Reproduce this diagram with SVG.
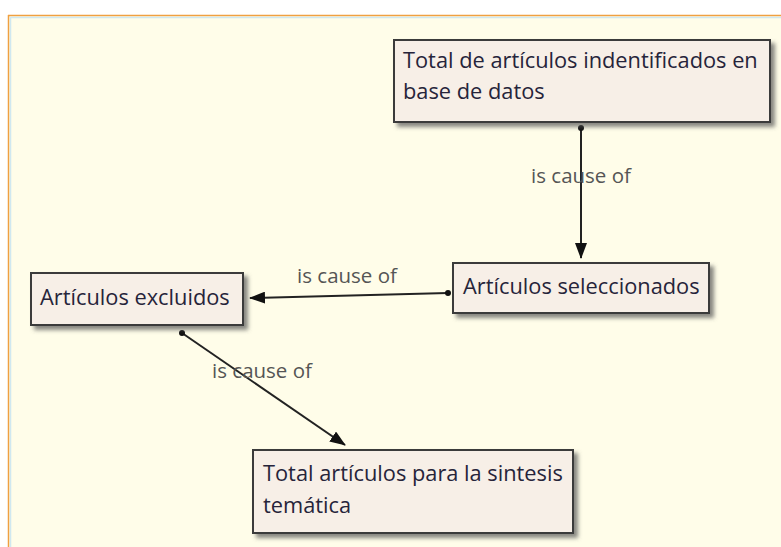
<svg xmlns="http://www.w3.org/2000/svg" width="781" height="547" viewBox="0 0 781 547">
<defs>
<filter id="sh" x="-10%" y="-20%" width="130%" height="150%">
<feDropShadow dx="4" dy="4" stdDeviation="2" flood-color="#555" flood-opacity="0.7"/>
</filter>
<marker id="arr" markerWidth="16" markerHeight="12" refX="15" refY="6" orient="auto" markerUnits="userSpaceOnUse">
<path d="M0,0 L16,6 L0,12 z" fill="#111"/>
</marker>
<marker id="dot" markerWidth="8" markerHeight="8" refX="4" refY="4" markerUnits="userSpaceOnUse">
<circle cx="4" cy="4" r="3" fill="#111"/>
</marker>
</defs>
<style>
.box{fill:#f7efe7;stroke:#3a3a3a;stroke-width:2;filter:url(#sh)}
.t{font-family:"Open Sans","DejaVu Sans",sans-serif;font-size:21.8px;fill:#26243a}
.lbl{font-family:"Open Sans","DejaVu Sans",sans-serif;font-size:20.5px;fill:#555}
.ln{stroke:#222;stroke-width:2;fill:none;marker-start:url(#dot);marker-end:url(#arr)}
</style>
<rect x="0" y="0" width="781" height="547" fill="#ffffff"/>
<rect x="8" y="15" width="773" height="532" fill="#fffde9"/>
<line x1="8" y1="15.5" x2="781" y2="15.5" stroke="#f0a040" stroke-width="1.5"/>
<line x1="8.5" y1="15" x2="8.5" y2="547" stroke="#f0a040" stroke-width="1.5"/>
<line x1="11" y1="17.5" x2="781" y2="17.5" stroke="#cfe8f0" stroke-width="1.5"/>
<line x1="10.5" y1="17" x2="10.5" y2="547" stroke="#cfe8f0" stroke-width="1.5"/>
<g id="connectors">
<line class="ln" x1="581" y1="128" x2="581" y2="258"/>
<text class="lbl" x="581" y="183" text-anchor="middle">is cause of</text>
<line class="ln" x1="448" y1="293" x2="250" y2="298"/>
<text class="lbl" x="347" y="283" text-anchor="middle">is cause of</text>
<line class="ln" x1="182" y1="333" x2="345" y2="445"/>
<text class="lbl" x="262" y="378" text-anchor="middle">is cause of</text>
</g>
<g id="n1">
<rect class="box" x="394" y="40" width="376" height="82"/>
<text class="t" x="403" y="68">Total de artículos indentificados en</text>
<text class="t" x="403" y="99">base de datos</text>
</g>
<g id="n2">
<rect class="box" x="453" y="263" width="256" height="50"/>
<text class="t" x="463" y="294">Artículos seleccionados</text>
</g>
<g id="n3">
<rect class="box" x="31" y="273" width="212" height="52"/>
<text class="t" x="40" y="305">Artículos excluidos</text>
</g>
<g id="n4">
<rect class="box" x="253" y="450" width="320" height="83"/>
<text class="t" x="263" y="481">Total artículos para la sintesis</text>
<text class="t" x="263" y="513">temática</text>
</g>
</svg>
